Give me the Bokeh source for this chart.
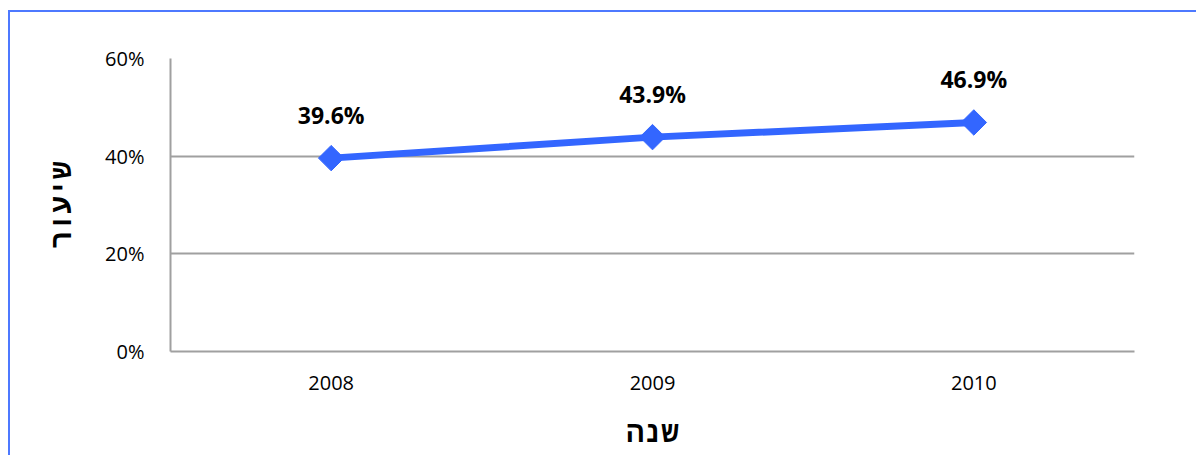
from bokeh.plotting import figure
from bokeh.models import Range1d, FixedTicker, PrintfTickFormatter, ColumnDataSource, LabelSet
from bokeh.core.properties import value
from bokeh.embed import file_html
from bokeh.resources import INLINE
import math

years = ["2008", "2009", "2010"]
rates = [39.6, 43.9, 46.9]
rate_labels = ["39.6%", "43.9%", "46.9%"]
y_ticks = [0, 20, 40, 60]
x_title = "שנה"
y_title = "שיעור"

src = ColumnDataSource(dict(x=years, y=rates, lab=rate_labels))

p = figure(x_range=years, y_range=Range1d(0, 60), width=1188, height=445,
           output_backend="svg", toolbar_location=None,
           min_border_left=160, min_border_right=64, min_border_top=46, min_border_bottom=106)
p.styles = {"border-top": "2px solid #4d79ff", "border-left": "2px solid #4d79ff",
            "margin-top": "10px", "margin-left": "8px"}
p.outline_line_color = None
p.background_fill_color = "white"
p.border_fill_color = "white"

p.line("x", "y", source=src, line_color="#3366ff", line_width=7)
p.scatter("x", "y", source=src, marker="square", angle=math.pi / 4, size=18,
          fill_color="#3366ff", line_color="#3366ff")

labels = LabelSet(x="x", y="y", text="lab", source=src, x_offset=0, y_offset=27,
                  text_align="center", text_baseline="bottom",
                  text_font=value("Open Sans"), text_font_style="bold", text_font_size="23px",
                  text_color="black")
p.add_layout(labels)

p.yaxis.ticker = FixedTicker(ticks=y_ticks)
p.yaxis.formatter = PrintfTickFormatter(format="%d%%")
for ax in (p.xaxis[0], p.yaxis[0]):
    ax.axis_line_color = "#a0a0a0"
    ax.axis_line_width = 2
    ax.major_tick_line_color = None
    ax.minor_tick_line_color = None
    ax.major_label_text_font = "Open Sans"
    ax.major_label_text_font_size = "20px"
    ax.major_label_text_color = "black"
    ax.axis_label_text_font = "Liberation Mono"
    ax.axis_label_text_font_style = "bold"
    ax.axis_label_text_font_size = "29px"
    ax.axis_label_text_color = "black"

p.xaxis.axis_label = x_title
p.yaxis.axis_label = y_title
p.xaxis.major_label_standoff = 18
p.xaxis.axis_label_standoff = 25
p.yaxis.major_label_standoff = 20
p.yaxis.axis_label_standoff = 22

p.xgrid.grid_line_color = None
p.ygrid.grid_line_color = "#a0a0a0"
p.ygrid.grid_line_width = 2

open("out.html", "w").write(file_html(p, INLINE))
